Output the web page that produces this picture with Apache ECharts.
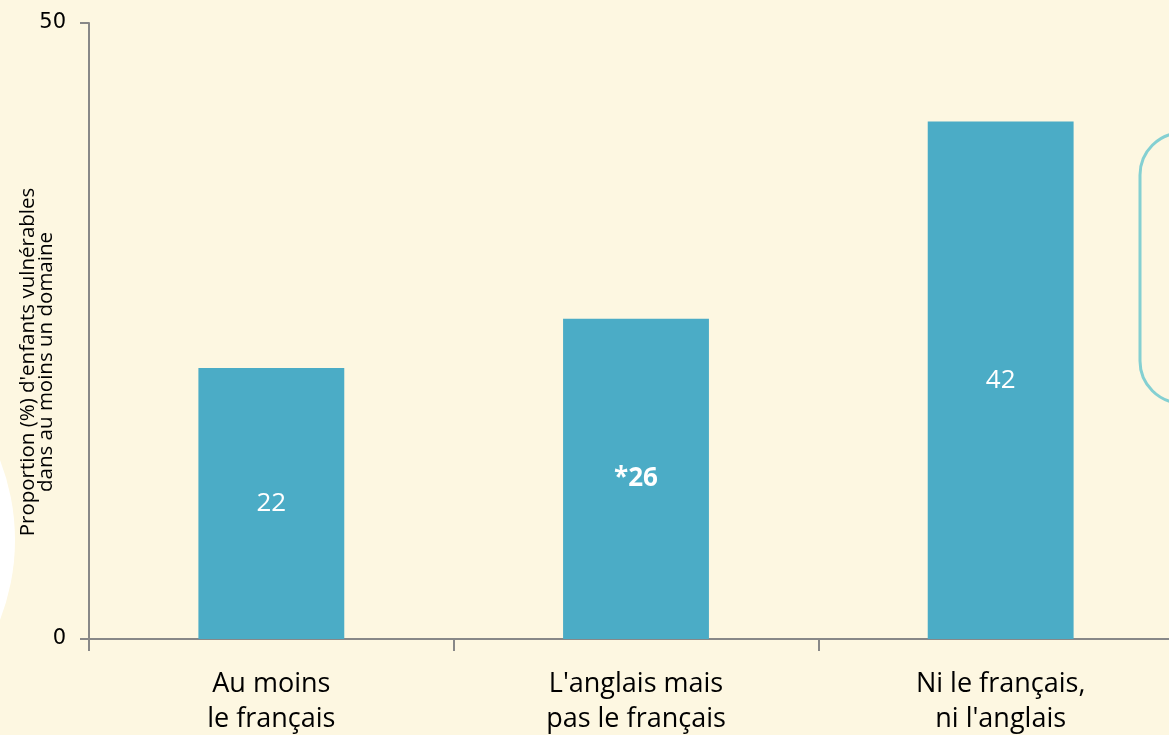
<!DOCTYPE html>
<html>
<head>
<meta charset="utf-8">
<script src="https://cdn.jsdelivr.net/npm/echarts@6/dist/echarts.min.js"></script>
<style>
html,body{margin:0;padding:0;background:#FDF7E1;}
#chart{width:1169px;height:735px;}
</style>
</head>
<body>
<div id="chart"></div>
<script>
const categories = ["Au moins\nle français", "L'anglais mais\npas le français", "Ni le français,\nni l'anglais"];
const values = [22, 26, 42];
const valueLabels = ["22", "*26", "42"];
const boldLabels = [false, true, false];
const yTicks = [0, 50];
const yTitle = "Proportion (%) d'enfants vulnérables\ndans au moins un domaine";

const chart = echarts.init(document.getElementById('chart'));
const font = "'Open Sans', sans-serif";
chart.setOption({
  backgroundColor: '#FDF7E1',
  animation: false,
  grid: {left: 89, right: -14, top: 23, bottom: 96, containLabel: false, outerBoundsMode: 'none'},
  xAxis: {
    type: 'category',
    data: categories,
    axisLine: {lineStyle: {color: '#888888', width: 2}},
    axisTick: {show: true, length: 12, lineStyle: {color: '#888888', width: 2}, alignWithLabel: false},
    axisLabel: {color: '#000', fontSize: 27, fontFamily: font, lineHeight: 35, margin: 28},
    splitLine: {show: false}
  },
  yAxis: {
    type: 'value',
    min: yTicks[0],
    max: yTicks[yTicks.length - 1],
    interval: 50,
    name: yTitle,
    nameLocation: 'middle',
    nameRotate: 90,
    nameGap: 34,
    nameMoveOverlap: false,
    nameTextStyle: {color: '#000', fontSize: 20.5, fontFamily: font, lineHeight: 18, padding: [0, 62, 0, 0]},
    axisLine: {show: true, lineStyle: {color: '#888888', width: 2}},
    axisTick: {show: true, length: 9, lineStyle: {color: '#888888', width: 2}},
    axisLabel: {color: '#000', fontSize: 21, fontFamily: "'DejaVu Sans', sans-serif", margin: 23},
    splitLine: {show: false}
  },
  graphic: [
    {type: 'circle', shape: {cx: -206, cy: 540, r: 221}, style: {fill: '#FFFFFF'}, z: -1},
    {type: 'rect', shape: {x: 1140, y: 133, width: 120, height: 270, r: 42},
     style: {fill: 'transparent', stroke: '#84D0D2', lineWidth: 3}, z: -1}
  ],
  series: [{
    type: 'bar',
    barWidth: '40%',
    itemStyle: {color: '#4BACC6'},
    data: values.map((v, i) => ({
      value: v,
      label: {
        show: true,
        position: 'inside',
        formatter: valueLabels[i],
        color: '#FFFFFF',
        fontSize: 26,
        fontWeight: boldLabels[i] ? 'bold' : 'normal',
        fontFamily: font
      }
    }))
  }]
});
</script>
</body>
</html>
